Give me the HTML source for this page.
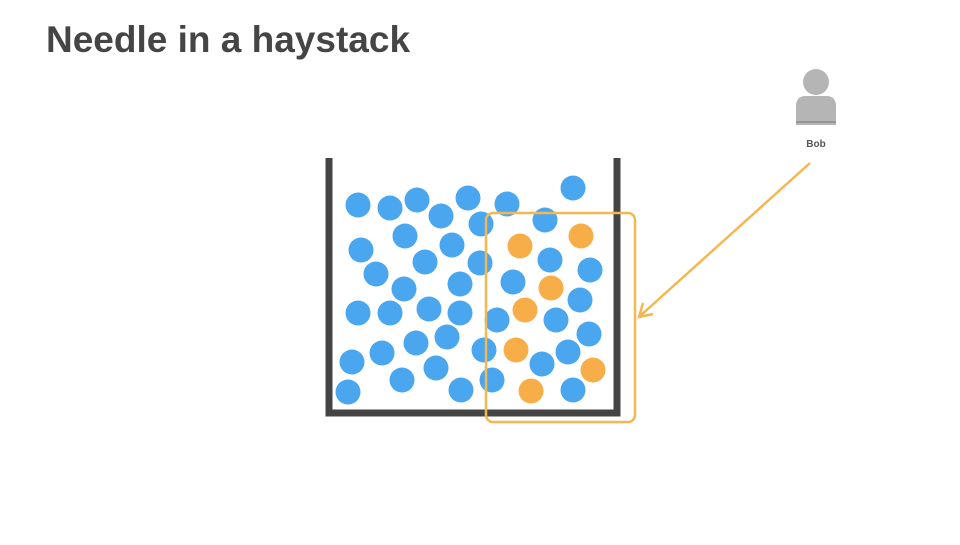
<!DOCTYPE html>
<html><head><meta charset="utf-8"><style>
body{margin:0;width:960px;height:540px;background:#fff;overflow:hidden;font-family:"Liberation Sans",sans-serif}
</style></head><body>
<svg width="960" height="540" xmlns="http://www.w3.org/2000/svg">
<text x="46" y="52" font-family="Liberation Sans, sans-serif" font-weight="bold" font-size="37" fill="#454545">Needle in a haystack</text>
<g fill="#49a6ef">
<circle cx="358" cy="205" r="12.5"/><circle cx="390" cy="208" r="12.5"/><circle cx="417" cy="200" r="12.5"/><circle cx="441" cy="216" r="12.5"/><circle cx="468" cy="198" r="12.5"/><circle cx="507" cy="204" r="12.5"/><circle cx="573" cy="188" r="12.5"/><circle cx="481" cy="224" r="12.5"/><circle cx="545" cy="220" r="12.5"/><circle cx="405" cy="236" r="12.5"/><circle cx="361" cy="250" r="12.5"/><circle cx="452" cy="245" r="12.5"/><circle cx="376" cy="274" r="12.5"/><circle cx="425" cy="262" r="12.5"/><circle cx="480" cy="263" r="12.5"/><circle cx="550" cy="260" r="12.5"/><circle cx="590" cy="270" r="12.5"/><circle cx="404" cy="289" r="12.5"/><circle cx="460" cy="284" r="12.5"/><circle cx="513" cy="282" r="12.5"/><circle cx="358" cy="313" r="12.5"/><circle cx="390" cy="313" r="12.5"/><circle cx="429" cy="309" r="12.5"/><circle cx="460" cy="313" r="12.5"/><circle cx="497" cy="320" r="12.5"/><circle cx="580" cy="300" r="12.5"/><circle cx="556" cy="320" r="12.5"/><circle cx="589" cy="334" r="12.5"/><circle cx="352" cy="362" r="12.5"/><circle cx="382" cy="353" r="12.5"/><circle cx="416" cy="343" r="12.5"/><circle cx="447" cy="337" r="12.5"/><circle cx="484" cy="350" r="12.5"/><circle cx="568" cy="352" r="12.5"/><circle cx="542" cy="364" r="12.5"/><circle cx="348" cy="392" r="12.5"/><circle cx="402" cy="380" r="12.5"/><circle cx="436" cy="368" r="12.5"/><circle cx="461" cy="390" r="12.5"/><circle cx="492" cy="380" r="12.5"/><circle cx="573" cy="390" r="12.5"/>
</g>
<g fill="#f8ae48">
<circle cx="520" cy="246" r="12.5"/><circle cx="581" cy="236" r="12.5"/><circle cx="551" cy="288" r="12.5"/><circle cx="525" cy="310" r="12.5"/><circle cx="516" cy="350" r="12.5"/><circle cx="593" cy="370" r="12.5"/><circle cx="531" cy="391" r="12.5"/>
</g>
<path d="M329 158 V413 H617 V158" fill="none" stroke="#444" stroke-width="7"/>
<rect x="486" y="213" width="149" height="209" rx="7" fill="none" stroke="#f5b74f" stroke-width="2.5"/>
<line x1="810" y1="163" x2="640" y2="316" stroke="#f5b74f" stroke-width="2.5"/>
<path d="M643 303 L639 317 L653 314" stroke="#f5b74f" stroke-width="2.5" fill="none"/>
<circle cx="816" cy="82" r="13" fill="#b5b5b5"/>
<path d="M796 125 V106 Q796 96 806 96 H826 Q836 96 836 106 V125 Z" fill="#b5b5b5"/>
<line x1="796" y1="122" x2="836" y2="122" stroke="#8a8a8a" stroke-width="1.5"/>
<text x="816" y="147" text-anchor="middle" font-family="Liberation Sans, sans-serif" font-weight="bold" font-size="10" fill="#555">Bob</text>
</svg>
</body></html>
